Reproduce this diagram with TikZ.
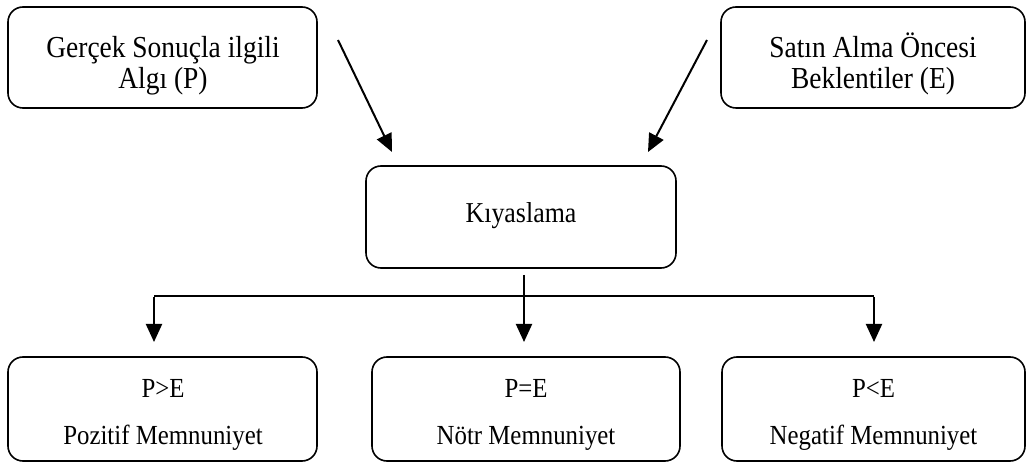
\documentclass[tikz,border=0pt]{standalone}
\usepackage{fontspec}
\setmainfont{Liberation Serif}
\newfontfamily\boxfont{Liberation Serif}[FakeStretch=0.9]
\usetikzlibrary{arrows.meta}
\begin{document}
\begin{tikzpicture}[x=1pt,y=-1pt,
  box/.style={draw, line width=1.6pt, rounded corners=15pt, inner sep=0pt},
  toptext/.style={anchor=base, inner sep=0pt, font=\boxfont\fontsize{30.5}{32}\selectfont},
  midtext/.style={anchor=base, inner sep=0pt, font=\boxfont\fontsize{28.8}{32}\selectfont},
  bottext/.style={anchor=base, inner sep=0pt, font=\boxfont\fontsize{27.6}{32}\selectfont},
  flow/.style={line width=2pt, -{Triangle[length=18pt,width=16pt]}},
  bar/.style={line width=2pt}]
\useasboundingbox (0,0) rectangle (1026,462);

% top inputs
\node[box, minimum width=309pt, minimum height=101pt] (perc) at (162.5,57.5) {};
\node[toptext] (perc1) at (163,58) {Gerçek Sonuçla ilgili};
\node[toptext] (perc2) at (163,89) {Algı (P)};

\node[box, minimum width=304pt, minimum height=101pt] (expt) at (873,57.5) {};
\node[toptext] (expt1) at (873,58) {Satın Alma Öncesi};
\node[toptext] (expt2) at (873,89) {Beklentiler (E)};

% comparison
\node[box, minimum width=310pt, minimum height=102pt] (cmp) at (521,217) {};
\node[midtext] (cmpt) at (521,223) {Kıyaslama};

% outcomes
\node[box, minimum width=309pt, minimum height=104pt] (pos) at (162.5,409) {};
\node[bottext] (pos1) at (163,398) {P>E};
\node[bottext] (pos2) at (163,444) {Pozitif Memnuniyet};

\node[box, minimum width=308pt, minimum height=104pt] (neu) at (526,409) {};
\node[bottext] (neu1) at (526,398) {P=E};
\node[bottext] (neu2) at (526,444) {Nötr Memnuniyet};

\node[box, minimum width=303pt, minimum height=104pt] (neg) at (873.5,409) {};
\node[bottext] (neg1) at (873.5,398) {P<E};
\node[bottext] (neg2) at (873.5,444) {Negatif Memnuniyet};

% arrow end points
\coordinate (a1s) at (338,40);
\coordinate (a1e) at (392,152);
\coordinate (a2s) at (707,40);
\coordinate (a2e) at (648,152);
\coordinate (cs) at (524,275);
\coordinate (ce) at (524,342);
\coordinate (hl) at (154,296);
\coordinate (hr) at (874,296);
\coordinate (le) at (154,342);
\coordinate (re) at (874,342);

\draw[flow] (a1s) -- (a1e);
\draw[flow] (a2s) -- (a2e);
\draw[flow] (cs) -- (ce);
\draw[bar] (hl) -- (hr);
\draw[flow] ([yshift=-1pt]hl) -- (le);
\draw[flow] ([yshift=-1pt]hr) -- (re);
\end{tikzpicture}
\end{document}
